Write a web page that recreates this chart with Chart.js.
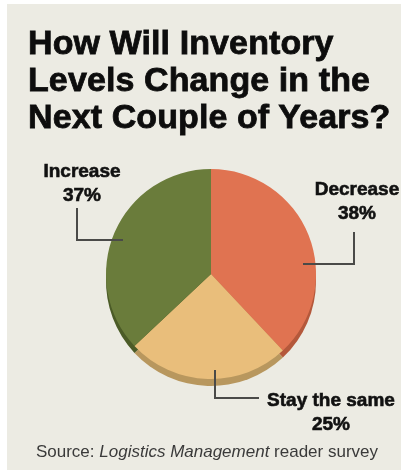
<!DOCTYPE html>
<html>
<head>
<meta charset="utf-8">
<script src="https://cdn.jsdelivr.net/npm/chart.js@4/dist/chart.umd.min.js"></script>
<style>
  html, body { margin: 0; padding: 0; background: #fff; }
  #wrap { position: relative; width: 401px; height: 470px; overflow: hidden; }
  #panel { position: absolute; left: 7px; top: 4px; right: 0; bottom: 0; background: #ecebe3; }
  #chart { position: absolute; left: 0; top: 0; }
  #title {
    position: absolute; left: 28px; top: 24px; margin: 0;
    font: bold 34px "Liberation Sans", Arial, sans-serif; line-height: 37px;
    color: #0d0d0d; letter-spacing: 0.1px; -webkit-text-stroke: 0.8px #0d0d0d;
  }
  #source {
    position: absolute; left: 0; width: 414px; top: 442px; text-align: center;
    font: 17px "Liberation Sans", Arial, sans-serif; color: #3a3a3a; line-height: 20px;
  }
</style>
</head>
<body>
<div id="wrap">
  <div id="panel"></div>
  <canvas id="chart" width="401" height="470"></canvas>
  <h1 id="title">How Will Inventory<br>Levels Change in the<br>Next Couple of Years?</h1>
  <div id="source">Source: <i>Logistics Management</i> reader survey</div>
</div>
<script>
// Data
const categories = ['Decrease', 'Stay the same', 'Increase'];
const shares = [38, 25, 37];

// Colours
const faceColors = ['#e07351', '#e9be7b', '#6a7c3b'];
const rimColors = ['#b4583b', '#b8975e', '#4b5b27'];

// label placement per slice: text centre x, first baseline y, leader path
const labelLayout = [
    { x: 357, y: 195, path: [[354, 232], [354, 264], [303, 264]] },
    { x: 331, y: 406, path: [[215, 370], [215, 398], [259, 398]] },
    { x: 82, y: 177, path: [[77, 208], [77, 240], [123, 240]] }
];

// darker rim under the pie for the tilted look
const rimPlugin = {
    id: 'rim',
    beforeDatasetsDraw(chart) {
        const ctx = chart.ctx;
        const meta = chart.getDatasetMeta(0);
        meta.data.forEach((arc, i) => {
            const p = arc.getProps(['x', 'y', 'startAngle', 'endAngle', 'outerRadius'], true);
            ctx.save();
            ctx.beginPath();
            ctx.moveTo(p.x, p.y + 7);
            ctx.arc(p.x, p.y + 7, p.outerRadius, p.startAngle, p.endAngle);
            ctx.closePath();
            ctx.fillStyle = rimColors[i];
            ctx.fill();
            ctx.restore();
        });
    }
};

const labelPlugin = {
    id: 'sliceLabels',
    afterDraw(chart) {
        const ctx = chart.ctx;
        ctx.save();
        labelLayout.forEach((l, i) => {
            ctx.strokeStyle = '#4a4a48';
            ctx.lineWidth = 2;
            ctx.beginPath();
            l.path.forEach((pt, j) => j ? ctx.lineTo(pt[0], pt[1]) : ctx.moveTo(pt[0], pt[1]));
            ctx.stroke();

            ctx.fillStyle = '#111';
            ctx.strokeStyle = '#111';
            ctx.lineWidth = 0.6;
            ctx.font = 'bold 19px "Liberation Sans", Arial, sans-serif';
            ctx.textAlign = 'center';
            ctx.textBaseline = 'alphabetic';
            [categories[i], shares[i] + '%'].forEach((t, k) => {
                ctx.fillText(t, l.x, l.y + k * 24);
                ctx.strokeText(t, l.x, l.y + k * 24);
            });
        });
        ctx.restore();
    }
};

new Chart(document.getElementById('chart'), {
    type: 'pie',
    data: {
        labels: categories,
        datasets: [{
            data: shares,
            backgroundColor: faceColors,
            borderWidth: 0
        }]
    },
    options: {
        responsive: false,
        animation: false,
        layout: { padding: { left: 106, right: 85, top: 169, bottom: 91 } },
        plugins: {
            legend: { display: false },
            tooltip: { enabled: false }
        }
    },
    plugins: [rimPlugin, labelPlugin]
});
</script>
</body>
</html>
